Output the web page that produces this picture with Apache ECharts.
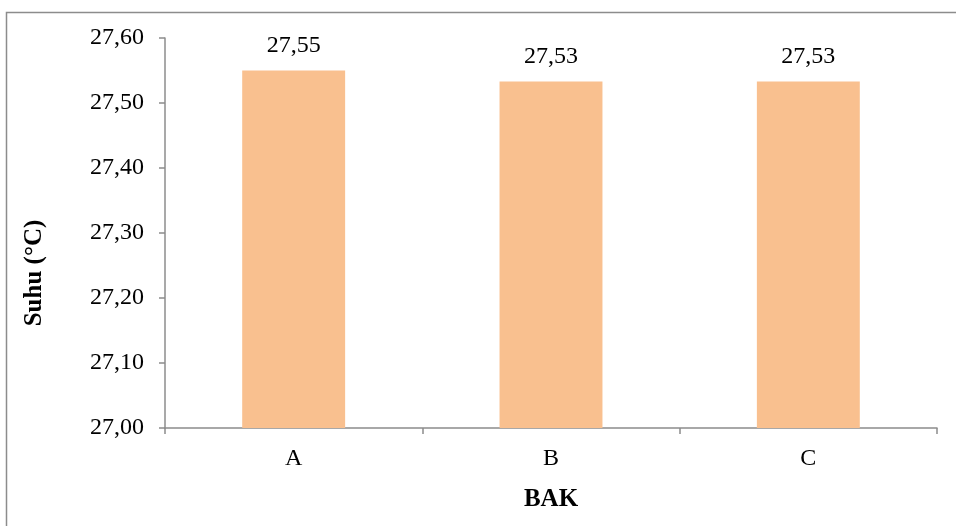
<!DOCTYPE html>
<html><head><meta charset="utf-8">
<script src="https://cdn.jsdelivr.net/npm/echarts@6/dist/echarts.min.js"></script>
<style>html,body{margin:0;padding:0;background:#fff}#c{width:956px;height:526px}</style>
</head><body><div id="c"></div>
<script>
const categories = ['A', 'B', 'C'];
const values = [27.55, 27.533, 27.533];
const yTicks = { min: 27.0, max: 27.6, interval: 0.1 };
const xName = 'BAK';
const yName = 'Suhu (°C)';

const fmt = v => v.toFixed(2).replace('.', ',');
const font = '"Liberation Serif", "Times New Roman", serif';
const chart = echarts.init(document.getElementById('c'));
chart.setOption({
  animation: false,
  graphic: [{ type: 'rect', shape: { x: 6.5, y: 12.5, width: 960, height: 530 }, style: { fill: 'none', stroke: '#8c8c8c', lineWidth: 1.5 } }],
  grid: { left: 165, right: 19, top: 38, bottom: 98 },
  xAxis: {
    type: 'category', data: categories,
    name: xName, nameLocation: 'middle', nameGap: 59,
    nameTextStyle: { fontFamily: font, fontSize: 25, fontWeight: 'bold', color: '#000' },
    axisLine: { lineStyle: { color: '#8c8c8c', width: 1.5 } },
    axisTick: { show: true, length: 6, lineStyle: { color: '#8c8c8c', width: 1.5 } },
    axisLabel: { fontFamily: font, fontSize: 24, color: '#000', margin: 19 }
  },
  yAxis: {
    type: 'value', min: yTicks.min, max: yTicks.max, interval: yTicks.interval,
    name: yName, nameLocation: 'middle', nameGap: 118, nameRotate: 90,
    nameTextStyle: { fontFamily: font, fontSize: 25, fontWeight: 'bold', color: '#000', padding: [0, 80, 0, 0] },
    splitLine: { show: false },
    axisLine: { show: true, lineStyle: { color: '#8c8c8c', width: 1.5 } },
    axisTick: { show: true, length: 6, lineStyle: { color: '#8c8c8c', width: 1.5 } },
    axisLabel: { fontFamily: font, fontSize: 24, color: '#000', margin: 21, formatter: v => fmt(v) }
  },
  series: [{
    type: 'bar', data: values, barWidth: '40%',
    itemStyle: { color: '#F9C08F' },
    label: { show: true, position: 'top', distance: 13, fontFamily: font, fontSize: 24, color: '#000', formatter: p => fmt(p.value) }
  }]
});
</script></body></html>
